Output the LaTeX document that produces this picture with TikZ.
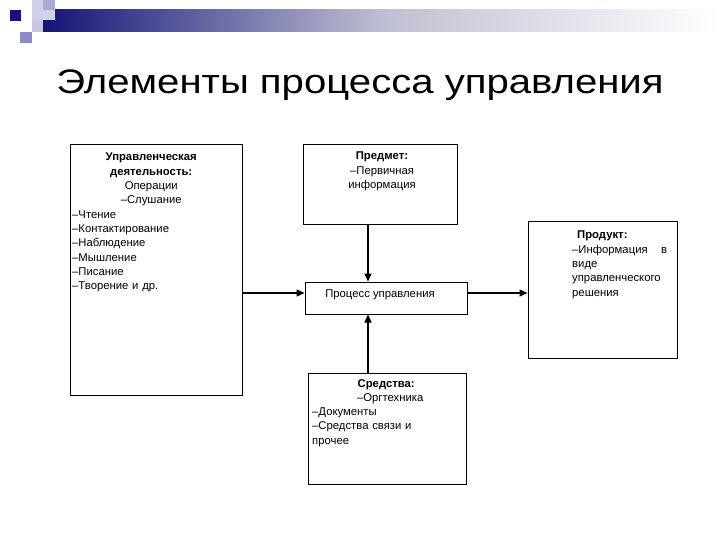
\documentclass[tikz,border=0pt]{standalone}
\usepackage{fontspec}
\usepackage{graphicx}
\setmainfont{Liberation Sans}
\usetikzlibrary{arrows.meta}

\definecolor{barnavy}{RGB}{20,20,120}
\definecolor{barmid}{RGB}{190,190,210}
\definecolor{sqlight}{RGB}{208,208,234}
\definecolor{sqmid}{RGB}{170,170,215}
\definecolor{sqpale}{RGB}{200,200,226}

\begin{document}
\begin{tikzpicture}[
    x=1pt, y=-1pt,
    box/.style={draw=black, line width=1pt, rectangle, inner sep=0pt},
    arr/.style={-{Triangle[length=8pt, width=7pt]}, line width=1.3pt, color=black},
    txt/.style={font=\fontsize{11.3}{14.3}\selectfont, inner sep=0pt},
    head/.style={font=\fontsize{34}{40}\selectfont, inner sep=0pt}
]
\useasboundingbox (0,0) rectangle (720,540);

% Corner decoration
\shade[left color=barnavy, right color=white, middle color=barmid] (43,10) rectangle (720,32);
\fill[sqlight] (32,0) rectangle (55,20);
\fill[sqmid] (43,0) rectangle (55,10);
\fill[sqpale] (32,20) rectangle (43,32);
\fill[barnavy] (10,10) rectangle (21,21);
\fill[sqmid!80!barnavy] (20,32) rectangle (32,43);

% Title
\node[head, anchor=base] (title) at (360,94) {\scalebox{1.18}[1]{Элементы процесса управления}};

% Boxes
\node[box, minimum width=172pt, minimum height=250pt] (act) at (156,270) {};
\node[box, minimum width=154pt, minimum height=80pt] (subj) at (380,185) {};
\node[box, minimum width=162pt, minimum height=32pt] (proc) at (386,298) {};
\node[box, minimum width=158pt, minimum height=111pt] (means) at (387,428.5) {};
\node[box, minimum width=149pt, minimum height=136pt] (prod) at (602.5,290) {};

% Box texts
\node[txt, anchor=north west, text width=158pt, align=left] (acttxt) at (72,153)
  {\centering\textbf{Управленческая}\\ \textbf{деятельность:}\\ Операции\\ –Слушание\par
   \raggedright –Чтение\\ –Контактирование\\ –Наблюдение\\ –Мышление\\ –Писание\\ –Творение и др.\par};
\node[txt, anchor=north, align=center] (subjtxt) at (382,152)
  {\textbf{Предмет:}\\ –Первичная\\ информация};
\node[txt, anchor=base] (proctxt) at (380,297) {Процесс управления};
\node[txt, anchor=north west, text width=148pt, align=left] (meanstxt) at (312,379)
  {\centering\textbf{Средства:}\\ \hspace*{8pt}–Оргтехника\par
   \raggedright –Документы\\ –Средства связи и\\ прочее\par};
\node[txt, anchor=north west, text width=95pt, align=left] (prodtxt) at (572,231)
  {\hspace*{5pt}\textbf{Продукт:}\\ –Информация\hfill в\\ виде\\ управленческого\\ решения};

% Connectors
\coordinate (row) at (0,293);
\coordinate (col) at (368,0);
\draw[arr] (act.east |- row) -- (proc.west |- row);
\draw[arr] (proc.east |- row) -- (prod.west |- row);
\draw[arr] (subj.south -| col) -- (proc.north -| col);
\draw[arr] (means.north -| col) -- (proc.south -| col);

\end{tikzpicture}
\end{document}
